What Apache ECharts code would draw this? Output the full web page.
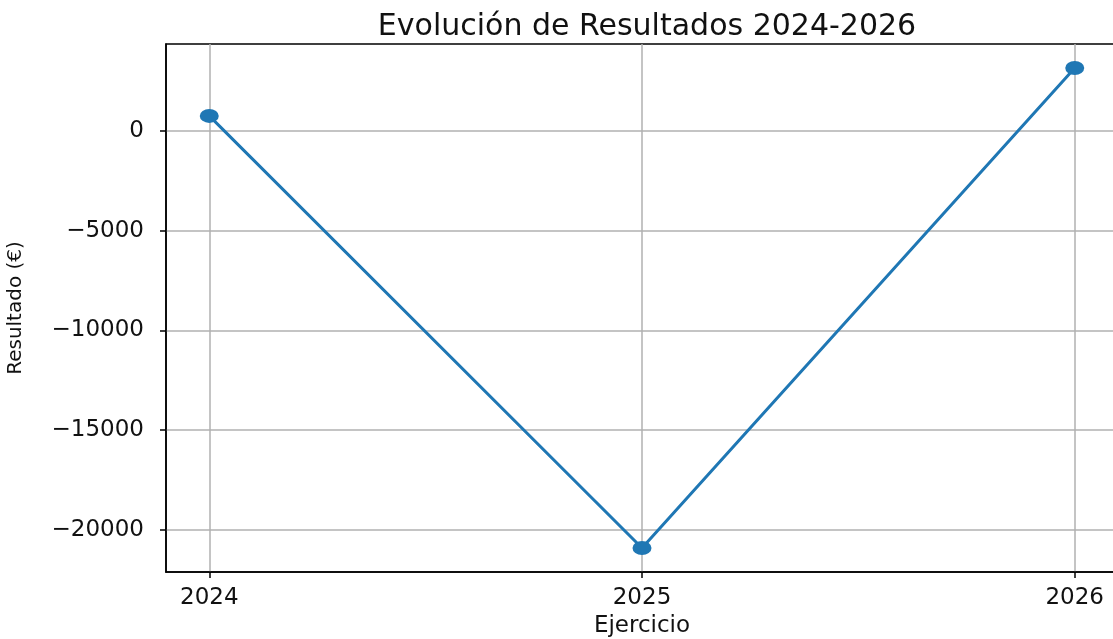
<!DOCTYPE html>
<html>
<head>
<meta charset="utf-8">
<title>Evolución de Resultados 2024-2026</title>
<script src="https://cdn.jsdelivr.net/npm/echarts@6/dist/echarts.min.js"></script>
<style>
  html, body { margin: 0; padding: 0; background: #fff; }
  #chart { width: 1113px; height: 639px; }
</style>
</head>
<body>
<div id="chart"></div>
<script>
// datos
var years = [2024, 2025, 2026];
var results = [750, -20900, 3150];
var xTicks = [2024, 2025, 2026];
var yTicks = [-20000, -15000, -10000, -5000, 0];

var chart = echarts.init(document.getElementById('chart'));

// margen del 5% como matplotlib
var yMin = Math.min.apply(null, results);
var yMax = Math.max.apply(null, results);
var yPad = (yMax - yMin) * 0.05;
var xPad = (years[years.length - 1] - years[0]) * 0.05;

function fmtNum(v) {
  return v < 0 ? '\u2212' + Math.abs(v) : String(v);
}

var font = 'DejaVu Sans';
var gridLine = { show: true, lineStyle: { color: '#b0b0b0', width: 1.5 } };

var option = {
  backgroundColor: '#ffffff',
  animation: false,
  title: {
    text: 'Evolución de Resultados 2024-2026',
    left: 642,
    textAlign: 'center',
    top: 7,
    textStyle: { fontFamily: font, fontSize: 30, fontWeight: 'normal', color: '#111' }
  },
  grid: {
    left: 166,
    right: -5,
    top: 44,
    bottom: 67,
    outerBoundsMode: 'none',
    containLabel: false,
    show: true,
    borderColor: '#000',
    borderWidth: 1.5,
    backgroundColor: 'transparent'
  },
  xAxis: {
    type: 'value',
    min: years[0] - xPad,
    max: years[years.length - 1] + xPad,
    splitNumber: 2,
    minInterval: 1,
    maxInterval: 1,
    name: 'Ejercicio',
    nameLocation: 'middle',
    nameGap: 43,
    nameTextStyle: { fontFamily: font, fontSize: 23, color: '#111' },
    axisLine: { show: true, onZero: false, lineStyle: { color: '#000', width: 1.5 } },
    axisTick: { show: true, length: 6, customValues: xTicks, lineStyle: { color: '#000', width: 1.5 } },
    axisLabel: {
      customValues: xTicks,
      margin: 15,
      fontFamily: font, fontSize: 23, color: '#111',
      formatter: function (v) { return String(v); }
    },
    splitLine: gridLine
  },
  yAxis: {
    type: 'value',
    min: yMin - yPad,
    max: yMax + yPad,
    splitNumber: 5,
    minInterval: 5000,
    maxInterval: 5000,
    name: 'Resultado (€)',
    nameLocation: 'middle',
    nameRotate: 90,
    nameGap: 140,
    nameTextStyle: { fontFamily: font, fontSize: 20, color: '#111' },
    axisLine: { show: true, onZero: false, lineStyle: { color: '#000', width: 1.5 } },
    axisTick: { show: true, length: 6, customValues: yTicks, lineStyle: { color: '#000', width: 1.5 } },
    axisLabel: {
      customValues: yTicks,
      margin: 22,
      fontFamily: font, fontSize: 23, color: '#111',
      formatter: fmtNum
    },
    splitLine: gridLine
  },
  series: [{
    type: 'line',
    data: years.map(function (y, i) { return [y, results[i]]; }),
    symbol: 'path://M0,10A10,10 0 1,0 20,10A10,10 0 1,0 0,10Z',
    symbolSize: [19, 14],
    symbolKeepAspect: false,
    lineStyle: { color: '#1f77b4', width: 3 },
    itemStyle: { color: '#1f77b4' },
    z: 3
  }]
};

chart.setOption(option);
</script>
</body>
</html>
